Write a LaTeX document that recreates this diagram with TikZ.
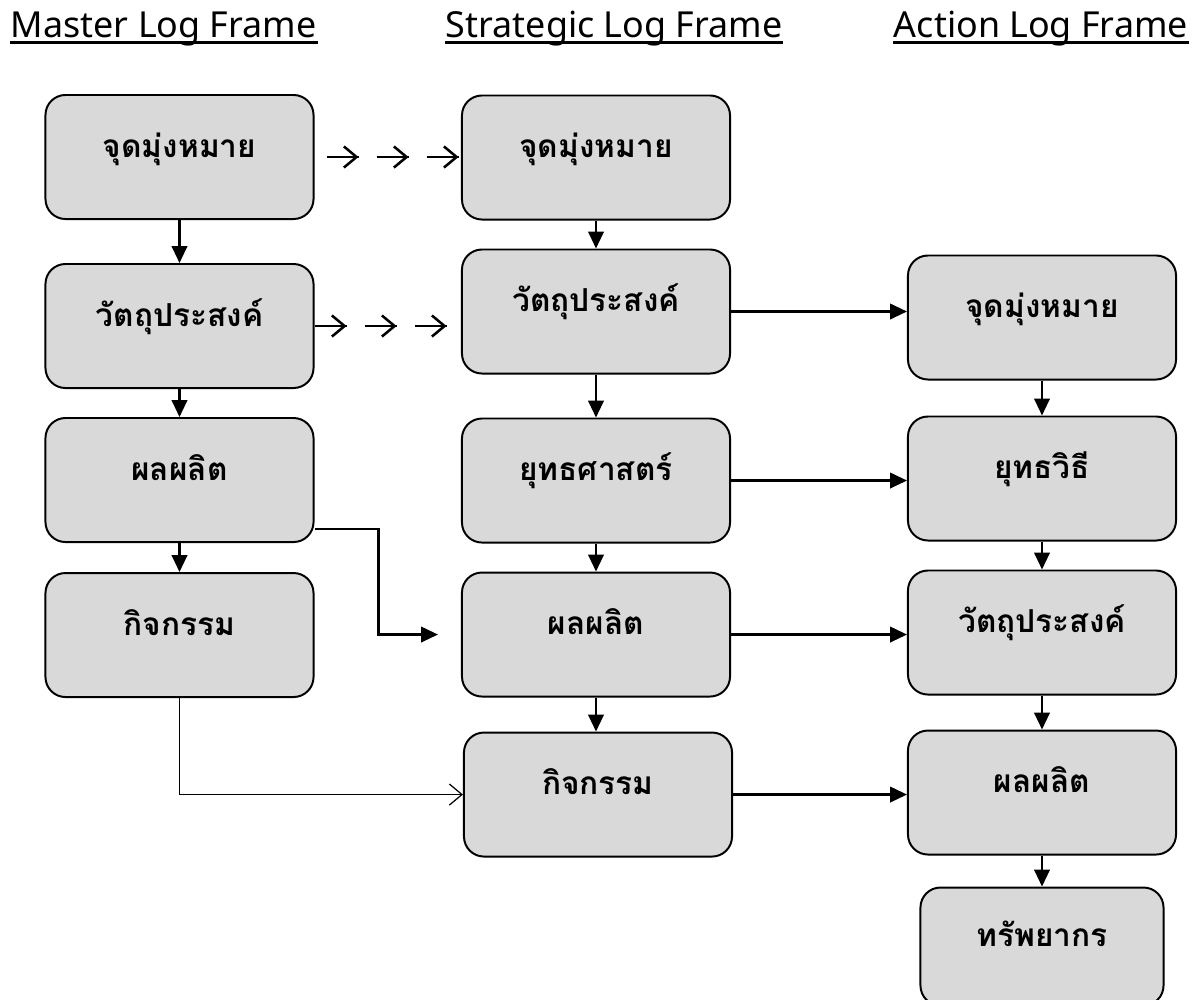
\documentclass[tikz,border=0pt]{standalone}
\usepackage{fontspec}
\setmainfont{Noto Sans}
\newfontfamily\thaifont[Script=Thai]{Loma}
\usetikzlibrary{positioning,arrows.meta,decorations.markings}
\definecolor{boxgray}{HTML}{D9D9D9}

\begin{document}
\begin{tikzpicture}[x=0.025cm,y=-0.025cm,line width=1.4pt,
    box node/.style={draw,line width=1.4pt,rounded corners=0.5cm,fill=boxgray,minimum width=6.7cm,minimum height=3.1cm,inner sep=0pt,font=\thaifont\bfseries\fontsize{22.5}{26}\selectfont,text height=14pt,text depth=14pt},
    head node/.style={anchor=base west,inner sep=0pt,font=\fontsize{25.5}{30}\selectfont},
    link/.style={-{Triangle[length=12pt,width=11pt]},line width=1.6pt},
    open link/.style={-{Straight Barb[length=9pt,width=15pt]},line width=1.6pt},
    triple one/.style={line width=1.8pt,dash pattern=on 0.8cm off 0.45cm,dash phase=0.95cm,postaction={decorate},
        decoration={markings,
            mark=at position 1.1cm with {\arrow{Straight Barb[length=9pt,width=15pt]}},
            mark=at position 2.35cm with {\arrow{Straight Barb[length=9pt,width=15pt]}},
            mark=at position 3.6cm with {\arrow{Straight Barb[length=9pt,width=15pt]}}}},
    triple two/.style={line width=1.8pt,dash pattern=on 0.8cm off 0.45cm,postaction={decorate},
        decoration={markings,
            mark=at position 0.8cm with {\arrow{Straight Barb[length=9pt,width=15pt]}},
            mark=at position 2.05cm with {\arrow{Straight Barb[length=9pt,width=15pt]}},
            mark=at position 3.3cm with {\arrow{Straight Barb[length=9pt,width=15pt]}}}}]

    \useasboundingbox (0,0) rectangle (1198,1000);

    \node[head node] (h1) at (10,37) {Master Log Frame};
    \node[head node] (h2) at (445,37) {Strategic Log Frame};
    \node[head node] (h3) at (893,37) {Action Log Frame};
    \foreach \h in {h1,h2,h3}
        \draw[line width=2pt] ([yshift=-4pt]\h.base west) -- ([yshift=-4pt]\h.base east);

    \node[box node] (m1) at (179.5,157) {จุดมุ่งหมาย};
    \node[box node] (m2) [below=1.075cm of m1] {วัตถุประสงค์};
    \node[box node] (m3) [below=0.7cm of m2] {ผลผลิต};
    \node[box node] (m4) [below=0.725cm of m3] {กิจกรรม};

    \node[box node] (s1) at (596,157.5) {จุดมุ่งหมาย};
    \node[box node] (s2) [below=0.7cm of s1] {วัตถุประสงค์};
    \node[box node] (s3) [below=1.075cm of s2] {ยุทธศาสตร์};
    \node[box node] (s4) [below=0.7cm of s3] {ผลผลิต};
    \node[box node] (s5) [below=0.85cm of s4, xshift=0.05cm] {กิจกรรม};

    \node[box node] (a1) at (1042,317.5) {จุดมุ่งหมาย};
    \node[box node] (a2) [below=0.875cm of a1] {ยุทธวิธี};
    \node[box node] (a3) [below=0.7cm of a2] {วัตถุประสงค์};
    \node[box node] (a4) [below=0.85cm of a3] {ผลผลิต};
    \node[box node, minimum width=6.075cm, minimum height=2.95cm] (a5) [below=0.775cm of a4] {ทรัพยากร};

    \draw[link] (m1) -- (m2);
    \draw[link] (m2) -- (m3);
    \draw[link] (m3) -- (m4);
    \draw[link] (s1) -- (s2);
    \draw[link] (s2) -- (s3);
    \draw[link] (s3) -- (s4);
    \draw[link] (s4.south) -- (s4.south |- s5.north);
    \draw[link] (a1) -- (a2);
    \draw[link] (a2) -- (a3);
    \draw[link] (a3) -- (a4);
    \draw[link] (a4) -- (a5);

    \draw[link] (s2.east) -- (s2.east -| a1.west);
    \draw[link] (s3.east) -- (s3.east -| a2.west);
    \draw[link] (s4.east) -- (s4.east -| a3.west);
    \draw[link] (s5.east) -- (s5.east -| a4.west);

    \draw[triple one] (m1.east) -- (m1.east -| s1.west);
    \draw[triple two] (m2.east) -- (m2.east -| s2.west);

    \draw[link] ([yshift=0.35cm]m3.south east) -- ++(64,0) |- ([xshift=-0.575cm]s4.west);
    \draw[open link, line width=0.9pt] (m4.south) |- (s5.west);
\end{tikzpicture}
\end{document}
